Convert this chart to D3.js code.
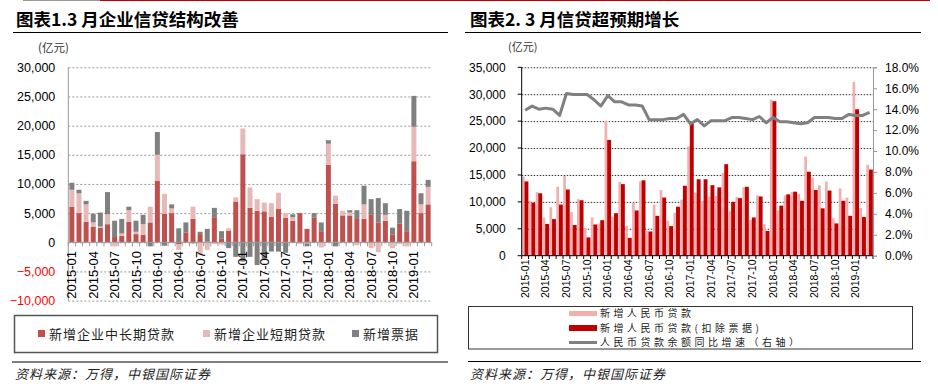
<!DOCTYPE html>
<html><head><meta charset="utf-8">
<script src="https://cdn.jsdelivr.net/npm/d3@7"></script>
<style>
body{margin:0;background:#fff;}
svg{display:block;}
.num{font-family:"Liberation Sans",Arial,sans-serif;}
.cjk{font-family:"Noto Sans CJK SC","Noto Sans",sans-serif;}
</style></head>
<body><svg id="c" width="938" height="391"></svg>
<script>
const months = ["2015-01","2015-02","2015-03","2015-04","2015-05","2015-06","2015-07","2015-08","2015-09","2015-10","2015-11","2015-12",
"2016-01","2016-02","2016-03","2016-04","2016-05","2016-06","2016-07","2016-08","2016-09","2016-10","2016-11","2016-12",
"2017-01","2017-02","2017-03","2017-04","2017-05","2017-06","2017-07","2017-08","2017-09","2017-10","2017-11","2017-12",
"2018-01","2018-02","2018-03","2018-04","2018-05","2018-06","2018-07","2018-08","2018-09","2018-10","2018-11","2018-12",
"2019-01","2019-02","2019-03"];
const tickMonths = ["2015-01","2015-04","2015-07","2015-10","2016-01","2016-04","2016-07","2016-10","2017-01","2017-04","2017-07","2017-10","2018-01","2018-04","2018-07","2018-10","2019-01"];

// Left chart: 亿元
const corpLong = [6100,5000,3500,2700,2500,3100,900,1100,3500,1400,1300,3400,
10500,4900,5000,-350,1700,4000,1400,100,4300,600,2000,7000,
15100,5900,5400,5300,4400,5700,4200,3700,5000,2300,4200,1900,
13300,6600,4600,4600,4000,4000,4700,3400,3700,1300,3200,1900,
13900,5000,6500];
const corpShort = [2900,3400,3000,700,200,1700,-700,400,2000,400,1800,2700,
4500,3400,800,-950,0,2100,-2200,-1300,-300,-400,400,700,
4400,3500,2000,1500,2300,2800,800,600,-300,-200,0,-900,
3600,1400,800,500,-500,2500,-1000,-1700,1000,-1000,-300,-700,
5900,1500,3000];
const bills = [1200,600,600,1500,2400,3800,2800,2500,600,1900,1600,-700,
3900,-600,700,2400,1700,-200,400,2200,1600,1300,-1000,-2500,
-3300,-2500,-3900,-2900,-1600,-1600,-1800,500,0,-500,800,1500,
600,-700,0,400,1500,3200,2700,4200,2000,1200,2500,3500,
5300,1900,1200];
const leftTicks = [-10000,-5000,0,5000,10000,15000,20000,25000,30000];
const leftLegend = ["新增企业中长期贷款","新增企业短期贷款","新增票据"];

// Right chart
const newLoans = [14700,10200,11800,7079,9008,12800,14800,8096,10500,5136,7089,5978,
25100,7266,13700,5556,9855,13800,4636,9487,12200,6513,7946,10400,
20300,11700,10200,11000,11100,15400,8255,10900,12700,6632,11200,5844,
29000,8393,11200,11800,11500,18400,14500,13100,13800,6970,12500,10800,
32300,8858,16900];
const loansExBills = [13800,9850,11600,5900,6800,9500,12300,5700,10300,3400,5800,6600,
21500,7900,13300,3300,8400,14000,4500,7400,10800,5500,9100,13000,
24600,14200,14200,13100,12700,17000,10000,10700,12800,7100,11000,4600,
28700,9300,11400,11900,10200,15600,12200,8800,12100,6000,10200,7400,
27200,7200,16000];
const loanGrowth = [13.9,14.3,14.0,14.1,14.0,13.4,15.5,15.4,15.4,15.4,14.9,14.3,
15.3,14.7,14.7,14.4,14.4,14.3,13.0,13.0,13.0,13.1,13.1,13.5,
12.6,13.0,12.4,12.9,12.9,12.9,13.2,13.2,13.1,13.0,13.3,12.7,
13.2,12.8,12.8,12.7,12.6,12.7,13.2,13.2,13.2,13.1,13.1,13.5,
13.4,13.4,13.7];
const rightTicks = [0,5000,10000,15000,20000,25000,30000,35000];
const pctTicks = [0,2,4,6,8,10,12,14,16,18];
const rightLegend = ["新增人民币贷款","新增人民币贷款(扣除票据)","人民币贷款余额同比增速（右轴）"];

const svg = d3.select("#c");
const fmt = d3.format(",");

// top decorations
svg.append("line").attr("x1",23).attr("x2",100).attr("y1",0.5).attr("y2",0.5).attr("stroke","#999");
svg.append("line").attr("x1",100).attr("x2",930).attr("y1",0.5).attr("y2",0.5).attr("stroke","#C00000");

// ---------- LEFT ----------
const L = svg.append("g");
L.append("text").attr("class","cjk").attr("x",16).attr("y",26).attr("font-size",17.5).attr("font-weight","bold").attr("fill","#000").text("图表1.3 月企业信贷结构改善");
L.append("line").attr("x1",13).attr("x2",448).attr("y1",32.5).attr("y2",32.5).attr("stroke","#000").attr("stroke-width",1.2);
L.append("text").attr("class","cjk").attr("x",38).attr("y",52).attr("font-size",11.5).attr("fill","#333").text("(亿元)");

const xL = d3.scaleBand().domain(months).range([68.3,431.7]).paddingInner(0.3).paddingOuter(0.15);
const yL = d3.scaleLinear().domain([-10000,30000]).range([300.6,67.3]);

const gy = L.append("g").attr("transform","translate(68.3,0)")
  .call(d3.axisLeft(yL).tickValues(leftTicks).tickFormat(fmt).tickSize(-(431.7-68.3)).tickPadding(13));
gy.select(".domain").remove();
gy.selectAll(".tick line").attr("stroke","#999").attr("stroke-dasharray","2,2").attr("stroke-width",1);
gy.selectAll(".tick text").attr("class","num").attr("font-size",12.5).attr("fill",d=>d<0?"#FF0000":"#000");
L.append("line").attr("x1",68.3).attr("x2",68.3).attr("y1",67.3).attr("y2",300.6).attr("stroke","#999");

const keysL = ["long","short","bills"];
const rowsL = months.map((m,i)=>({m, long:corpLong[i], short:corpShort[i], bills:bills[i]}));
const stackL = d3.stack().keys(keysL).offset(d3.stackOffsetDiverging)(rowsL);
const colL = {long:"#C0504D", short:"#E6B9B8", bills:"#808080"};
L.selectAll("g.ser").data(stackL).join("g").attr("fill",d=>colL[d.key])
  .selectAll("rect").data(d=>d).join("rect")
  .attr("x",d=>xL(d.data.m)).attr("width",xL.bandwidth())
  .attr("y",d=>yL(Math.max(d[0],d[1]))).attr("height",d=>Math.abs(yL(d[0])-yL(d[1])));

L.append("line").attr("x1",68.3).attr("x2",431.7).attr("y1",yL(0)).attr("y2",yL(0)).attr("stroke","#999");
const stepL = xL.step();
L.selectAll("line.tk").data(d3.range(months.length+1)).join("line").attr("class","tk")
  .attr("x1",i=>68.3+i*stepL).attr("x2",i=>68.3+i*stepL).attr("y1",yL(0)).attr("y2",yL(0)+4).attr("stroke","#999");
L.selectAll("text.xl").data(tickMonths).join("text").attr("class","num xl")
  .attr("transform",d=>`translate(${xL(d)+xL.bandwidth()/2},251) rotate(-90)`)
  .attr("text-anchor","end").attr("dy","0.35em").attr("font-size",13).attr("fill","#000").text(d=>d);

// legend left
L.append("rect").attr("x",14.5).attr("y",315.5).attr("width",423).attr("height",37).attr("fill","#fff").attr("stroke","#555").attr("stroke-width",1.5);
const legXL = [38,203,352];
const legColL = [colL.long,colL.short,colL.bills];
leftLegend.forEach((t,i)=>{
  L.append("rect").attr("x",legXL[i]).attr("y",330).attr("width",7).attr("height",7).attr("fill",legColL[i]);
  L.append("text").attr("class","cjk").attr("x",legXL[i]+11).attr("y",338.5).attr("font-size",13).attr("letter-spacing",1).attr("fill","#222").text(t);
});
L.append("line").attr("x1",12).attr("x2",448).attr("y1",362).attr("y2",362).attr("stroke","#000").attr("stroke-width",1.2);
L.append("text").attr("class","cjk").attr("x",15).attr("y",379).attr("font-size",13).attr("font-style","italic").attr("letter-spacing",1).attr("fill","#222").text("资料来源：万得，中银国际证券");

// ---------- RIGHT ----------
const R = svg.append("g");
R.append("text").attr("class","cjk").attr("x",470).attr("y",26).attr("font-size",17.5).attr("font-weight","bold").attr("fill","#000").text("图表2. 3 月信贷超预期增长");
R.append("line").attr("x1",465).attr("x2",921).attr("y1",32.5).attr("y2",32.5).attr("stroke","#000").attr("stroke-width",1.2);
R.append("text").attr("class","cjk").attr("x",508).attr("y",51).attr("font-size",11).attr("fill","#333").text("(亿元)");

const x0R = 521.7, x1R = 873;
const xR = d3.scaleBand().domain(months).range([x0R,x1R]);
const yR = d3.scaleLinear().domain([0,35000]).range([255.7,67.3]);
const yP = d3.scaleLinear().domain([0,18]).range([255.7,67.3]);

const gyr = R.append("g").attr("transform",`translate(${x0R},0)`)
  .call(d3.axisLeft(yR).tickValues(rightTicks).tickFormat(fmt).tickSize(-(x1R-x0R)).tickPadding(16));
gyr.select(".domain").remove();
gyr.selectAll(".tick line").attr("stroke","#333").attr("stroke-dasharray","1.5,1.5").filter(d=>d===0).remove();
gyr.selectAll(".tick text").attr("class","num").attr("font-size",12).attr("fill","#000");
R.selectAll("line.ltk").data(rightTicks).join("line").attr("class","ltk")
  .attr("x1",x0R-4).attr("x2",x0R).attr("y1",d=>yR(d)).attr("y2",d=>yR(d)).attr("stroke","#000");

R.selectAll("rect.pk").data(months).join("rect").attr("class","pk")
  .attr("x",d=>xR(d)+0.2).attr("width",2.7)
  .attr("y",(d,i)=>yR(newLoans[i])).attr("height",(d,i)=>yR(0)-yR(newLoans[i])).attr("fill","#F2AFAF");
R.selectAll("rect.rd").data(months).join("rect").attr("class","rd")
  .attr("x",d=>xR(d)+2.8).attr("width",3.9)
  .attr("y",(d,i)=>yR(loansExBills[i])).attr("height",(d,i)=>yR(0)-yR(loansExBills[i])).attr("fill","#C00000");

R.append("path").datum(loanGrowth).attr("fill","none").attr("stroke","#808080").attr("stroke-width",3).attr("stroke-linejoin","round")
  .attr("d",d3.line().x((d,i)=>xR(months[i])+xR.step()/2).y(d=>yP(d)));

R.append("line").attr("x1",x0R).attr("x2",x0R).attr("y1",67.3).attr("y2",255.7).attr("stroke","#000");
R.append("line").attr("x1",x0R).attr("x2",x1R).attr("y1",255.7).attr("y2",255.7).attr("stroke","#000");
const stepR = xR.step();
R.selectAll("line.btk").data(d3.range(months.length+1)).join("line").attr("class","btk")
  .attr("x1",i=>x0R+i*stepR).attr("x2",i=>x0R+i*stepR).attr("y1",255.7).attr("y2",259).attr("stroke","#000");
const gp = R.append("g").attr("transform",`translate(${x1R},0)`)
  .call(d3.axisRight(yP).tickValues(pctTicks).tickFormat(d=>d.toFixed(1)+"%").tickSize(4).tickPadding(8));
gp.select(".domain").attr("stroke","#999");
gp.selectAll(".tick line").attr("stroke","#999");
gp.selectAll(".tick text").attr("class","num").attr("font-size",12).attr("fill","#000");

R.selectAll("text.xr").data(tickMonths).join("text").attr("class","num xr")
  .attr("transform",d=>`translate(${xR(d)+stepR/2},259.5) rotate(-90)`)
  .attr("text-anchor","end").attr("dy","0.35em").attr("font-size",10.5).attr("fill","#000").text(d=>d);

// legend right
R.append("rect").attr("x",468.5).attr("y",306.5).attr("width",444).attr("height",42.5).attr("fill","#fff").attr("stroke","#333").attr("stroke-width",1);
const rowY = [313.5,328,342.5];
R.append("rect").attr("x",569).attr("y",rowY[0]-2.5).attr("width",28).attr("height",5).attr("fill","#F2AFAF");
R.append("rect").attr("x",569).attr("y",rowY[1]-3).attr("width",28).attr("height",6).attr("fill","#C00000");
R.append("line").attr("x1",569).attr("x2",597).attr("y1",rowY[2]).attr("y2",rowY[2]).attr("stroke","#808080").attr("stroke-width",3);
rightLegend.forEach((t,i)=>{
  R.append("text").attr("class","cjk").attr("x",600).attr("y",rowY[i]+3.8).attr("font-size",10).attr("letter-spacing",3.5).attr("fill","#222").text(t);
});
R.append("line").attr("x1",468).attr("x2",921).attr("y1",361.5).attr("y2",361.5).attr("stroke","#000").attr("stroke-width",1.2);
R.append("text").attr("class","cjk").attr("x",470).attr("y",379).attr("font-size",13).attr("font-style","italic").attr("letter-spacing",1).attr("fill","#222").text("资料来源：万得，中银国际证券");
</script></body></html>
